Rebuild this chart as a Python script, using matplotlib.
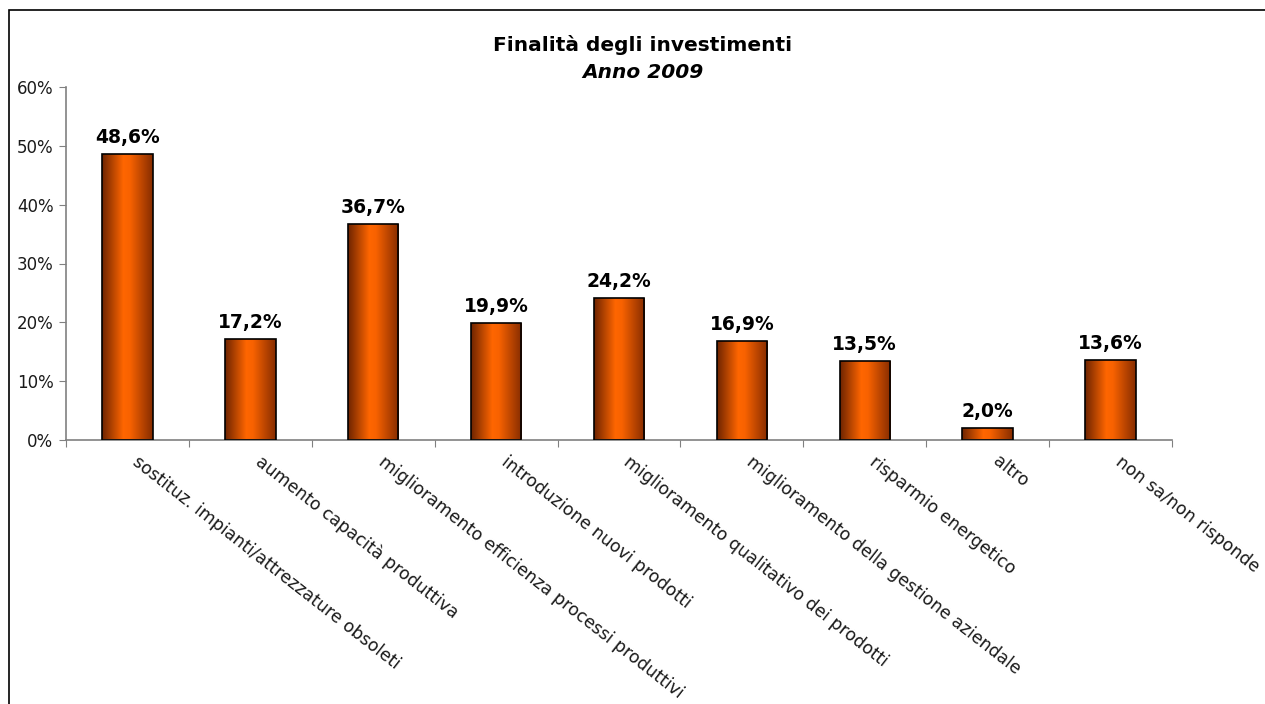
import numpy as np
import matplotlib
matplotlib.use("Agg")
import matplotlib.pyplot as plt
from matplotlib.colors import LinearSegmentedColormap
from matplotlib.patches import Rectangle
from matplotlib.ticker import FuncFormatter, FixedLocator

categories = [
    "sostituz. impianti/attrezzature obsoleti",
    "aumento capacità produttiva",
    "miglioramento efficienza processi produttivi",
    "introduzione nuovi prodotti",
    "miglioramento qualitativo dei prodotti",
    "miglioramento della gestione aziendale",
    "risparmio energetico",
    "altro",
    "non sa/non risponde",
]
values = [48.6, 17.2, 36.7, 19.9, 24.2, 16.9, 13.5, 2.0, 13.6]
yticks = [0, 10, 20, 30, 40, 50, 60]

plt.rcParams["font.family"] = ["DejaVu Sans"]

fig = plt.figure(figsize=(12.65, 7.04), dpi=100)
W, H = 1265, 704

# outer chart frame
fig.add_artist(Rectangle((9 / W, -0.1), 1.2, 1 - 10 / H + 0.1,
                         transform=fig.transFigure, fill=False,
                         edgecolor="black", linewidth=1.2))

ax = fig.add_axes([66 / W, 1 - 440 / H, (1172 - 66) / W, (440 - 87) / H])

n = len(categories)
x = np.arange(n)
bw = 0.41
bars = ax.bar(x, values, width=bw, color="none", edgecolor="black",
              linewidth=1.2, zorder=3)

cmap = LinearSegmentedColormap.from_list(
    "orange_cyl", [(0.0, "#6e2400"), (0.42, "#ff6600"), (0.55, "#f86200"), (1.0, "#862c00")])
grad = np.linspace(0, 1, 256).reshape(1, -1)
for b in bars:
    x0, y0 = b.get_x(), b.get_y()
    w, h = b.get_width(), b.get_height()
    im = ax.imshow(grad, cmap=cmap, aspect="auto",
                   extent=(x0, x0 + w, y0, y0 + h), zorder=2)
    im.set_clip_path(b)

for xi, v in zip(x, values):
    ax.text(xi, v + 1.2, f"{v:.1f}%".replace(".", ","), ha="center", va="bottom",
            fontsize=13.5, fontweight="bold", color="black")

ax.set_xlim(-0.5, n - 0.5)
ax.set_ylim(0, 60)
ax.set_yticks(yticks)
ax.yaxis.set_major_formatter(FuncFormatter(lambda v, p: f"{v:.0f}%"))
ax.tick_params(axis="y", labelsize=12, length=5, color="#808080", pad=4,
               labelcolor="#1a1a1a")

# category boundaries as ticks, labels placed separately
ax.xaxis.set_major_locator(FixedLocator(np.arange(n + 1) - 0.5))
ax.tick_params(axis="x", length=5, color="#808080", labelbottom=False)
for xi, lab in zip(x, categories):
    ax.annotate(lab, xy=(xi, 0), xycoords="data", xytext=(5, -14),
                textcoords="offset points", rotation=-38,
                rotation_mode="anchor", ha="left", va="center",
                fontsize=12.4, color="#1a1a1a")

for s in ["top", "right"]:
    ax.spines[s].set_visible(False)
for s in ["left", "bottom"]:
    ax.spines[s].set_color("#808080")
    ax.spines[s].set_linewidth(1.2)

fig.text(643 / W, 1 - 45 / H, "Finalità degli investimenti", ha="center",
         va="center", fontsize=14.5, fontweight="bold")
fig.text(643 / W, 1 - 72 / H, "Anno 2009", ha="center", va="center",
         fontsize=14.5, fontweight="bold", fontstyle="italic")

fig.savefig("out.png", dpi=100, facecolor="white")
